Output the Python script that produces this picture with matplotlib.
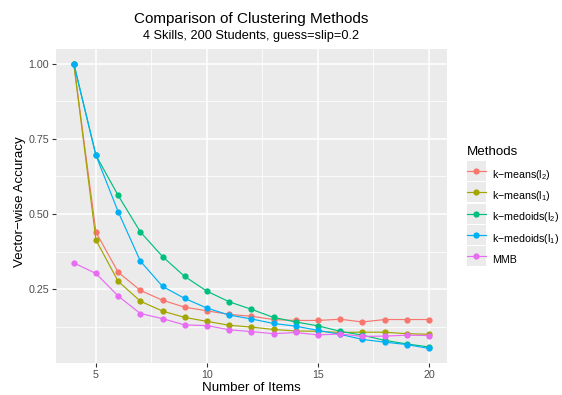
import numpy as np
import matplotlib
matplotlib.use("Agg")
import matplotlib.pyplot as plt
from matplotlib.lines import Line2D
from matplotlib.legend_handler import HandlerLine2D
from matplotlib.patches import Rectangle

plt.rcParams['font.family'] = ['Liberation Sans', 'DejaVu Sans']
plt.rcParams['mathtext.fontset'] = 'custom'
plt.rcParams['mathtext.rm'] = 'Liberation Sans'

items = np.arange(4, 21)

kmeans_l2 = [1.0, 0.440, 0.307, 0.247, 0.214, 0.191, 0.179, 0.167, 0.161, 0.150,
             0.147, 0.147, 0.151, 0.142, 0.150, 0.150, 0.150]
kmeans_l1 = [1.0, 0.414, 0.277, 0.211, 0.178, 0.157, 0.144, 0.131, 0.125, 0.117,
             0.112, 0.111, 0.107, 0.108, 0.108, 0.103, 0.101]
kmedoids_l2 = [1.0, 0.695, 0.562, 0.441, 0.359, 0.293, 0.244, 0.209, 0.184, 0.157,
               0.142, 0.129, 0.111, 0.098, 0.081, 0.069, 0.059]
kmedoids_l1 = [1.0, 0.695, 0.508, 0.344, 0.260, 0.220, 0.188, 0.165, 0.152, 0.137,
               0.128, 0.114, 0.101, 0.084, 0.075, 0.067, 0.054]
mmb = [0.338, 0.303, 0.228, 0.170, 0.153, 0.132, 0.130, 0.116, 0.110, 0.103,
       0.107, 0.099, 0.102, 0.094, 0.095, 0.098, 0.097]

series = [kmeans_l2, kmeans_l1, kmedoids_l2, kmedoids_l1, mmb]
labels = [r"k−means($\mathregular{l_2}$)", r"k−means($\mathregular{l_1}$)",
          r"k−medoids($\mathregular{l_2}$)", r"k−medoids($\mathregular{l_1}$)", "MMB"]
colors = ['#F8766D', '#A3A500', '#00BF7D', '#00B0F6', '#E76BF3']

xticks = [5, 10, 15, 20]
yticks = [0.25, 0.50, 0.75, 1.00]


class KeyHandler(HandlerLine2D):
    # grey key background behind each legend line, centred on it
    def create_artists(self, legend, orig_handle, xdescent, ydescent,
                       width, height, fontsize, trans):
        arts = super().create_artists(legend, orig_handle, xdescent, ydescent,
                                      width, height, fontsize, trans)
        yc = (height - ydescent) / 2
        bg = Rectangle((-xdescent, yc - height / 2), width, height,
                       facecolor='#EBEBEB', edgecolor='none', transform=trans)
        return [bg] + list(arts)


fig = plt.figure(figsize=(5.62, 3.95), dpi=100)
ax = fig.add_axes([56 / 562, 1 - 362.7 / 395, (446.7 - 56) / 562, (362.7 - 49.3) / 395])
ax.set_facecolor('#EBEBEB')
for s in ax.spines.values():
    s.set_visible(False)

handles = []
for vals, lab, col in zip(series, labels, colors):
    h, = ax.plot(items, vals, color=col, lw=0.85, marker='o', ms=4.5,
                 markeredgewidth=0, label=lab, zorder=3)
    handles.append(h)

# 5% padding on both axes
xr = items.max() - items.min()
ax.set_xlim(items.min() - 0.05 * xr, items.max() + 0.05 * xr)
allv = np.concatenate([np.asarray(v) for v in series])
yr = allv.max() - allv.min()
ax.set_ylim(allv.min() - 0.05 * yr, allv.max() + 0.05 * yr)

ax.set_xticks(xticks)
ax.set_yticks(yticks)
ax.set_yticklabels([f"{t:.2f}" for t in yticks])
ax.set_xticks([7.5, 12.5, 17.5], minor=True)
ax.set_yticks([0.125, 0.375, 0.625, 0.875], minor=True)
ax.grid(which='major', color='white', lw=1.1, zorder=0)
ax.grid(which='minor', color='white', lw=0.55, zorder=0)
ax.set_axisbelow(True)
ax.tick_params(which='major', length=3.2, width=0.8, color='#333333',
               labelcolor='#4D4D4D', labelsize=7.7, pad=2)
ax.tick_params(which='minor', length=0)

fig.text(251.3 / 562, 1 - 23 / 395, "Comparison of Clustering Methods",
         ha='center', va='baseline', fontsize=11, color='black')
fig.text(251.3 / 562, 1 - 39 / 395, "4 Skills, 200 Students, guess=slip=0.2",
         ha='center', va='baseline', fontsize=9.2, color='black')
fig.text(251.3 / 562, 1 - 391 / 395, "Number of Items",
         ha='center', va='baseline', fontsize=9.6, color='black')
fig.text(20 / 562, 1 - 202 / 395, "Vector−wise Accuracy", rotation=90,
         ha='center', va='center', fontsize=9.6, color='black')

# legend title drawn separately so its gap to the keys can be set
fig.text(466.7 / 562, 1 - 155 / 395, "Methods",
         ha='left', va='baseline', fontsize=9.6, color='black')
leg = fig.legend(handles, labels, loc='upper left',
                 bbox_to_anchor=(466.7 / 562, 1 - 164.3 / 395),
                 frameon=False, fontsize=7.7,
                 handlelength=1.8, handleheight=2.5, handletextpad=0.6,
                 labelspacing=0.13, borderpad=0, borderaxespad=0,
                 numpoints=1,
                 handler_map={Line2D: KeyHandler()})

fig.savefig("out.png", dpi=100)
